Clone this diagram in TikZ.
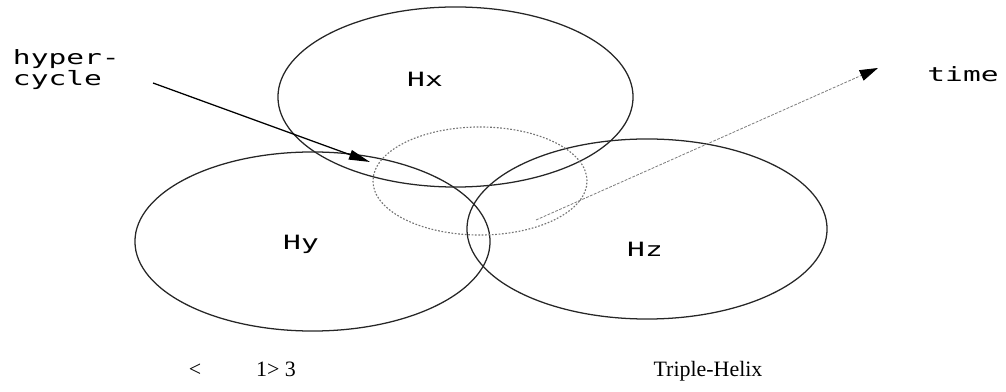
\documentclass[tikz,border=0pt]{standalone}
\usepackage{fontspec}
\setmainfont{Liberation Serif}
\setmonofont{DejaVu Sans Mono}
\usetikzlibrary{shapes.geometric,arrows.meta}
\newcommand{\wide}[1]{\scalebox{1.5}[1]{#1}}
\tikzset{
            helix/.style={ellipse,draw=black!85,line width=0.9pt},
            core/.style={ellipse,draw=black!55,line width=0.8pt,dash pattern=on 1.2pt off 1.2pt},
            tag/.style={font=\ttfamily\fontsize{14}{13}\selectfont},
            note/.style={font=\fontsize{15.6}{18}\selectfont,anchor=base}
        }

\begin{document}
\begin{tikzpicture}[
                    x=0.025cm,y=-0.025cm,
                    every node/.style={inner sep=0pt,outer sep=0pt}
                    ]
                \useasboundingbox (0,0) rectangle (1006,392);
                % the three helices and the hypercycle between them
                \node[helix,minimum width=8.875cm,minimum height=4.5cm] (hx) at (455.5,97) {};
                \node[helix,minimum width=8.875cm,minimum height=4.475cm] (hy) at (312.5,241.5) {};
                \node[helix,minimum width=9cm,minimum height=4.5cm] (hz) at (647,229) {};
                \node[core,minimum width=5.35cm,minimum height=2.7cm] (cycle) at (480,181) {};
                \node[tag,anchor=base] (hxname) at (425,87) {\wide{Hx}};
                \node[tag,anchor=base] (hyname) at (301,250) {\wide{Hy}};
                \node[tag,anchor=base] (hzname) at (645,257) {\wide{Hz}};
                % labels and arrows
                \node[tag,anchor=north west,align=left] (hyper) at (13,50) {\wide{hyper-}\\\wide{cycle}};
                \coordinate (hyperfrom) at (153,83);
                \coordinate (hyperto) at (370,162);
                \draw[line width=0.9pt,-{Triangle[length=15pt,width=7pt]}] (hyperfrom) -- (hyperto);
                \node[tag] (time) at (963,74) {\wide{time}};
                \coordinate (timefrom) at (536,220);
                \coordinate (timeto) at (878,68);
                \draw[draw=black!50,line width=0.6pt,dash pattern=on 2pt off 1pt,
                      -{Triangle[length=13pt,width=8pt,color=black]}] (timefrom) -- (timeto);
                \node[note] (less) at (195,377) {<};
                \node[note] (count) at (276,377) {1> 3};
                \node[note] (title) at (708,377) {Triple-Helix};
            \end{tikzpicture}
\end{document}
